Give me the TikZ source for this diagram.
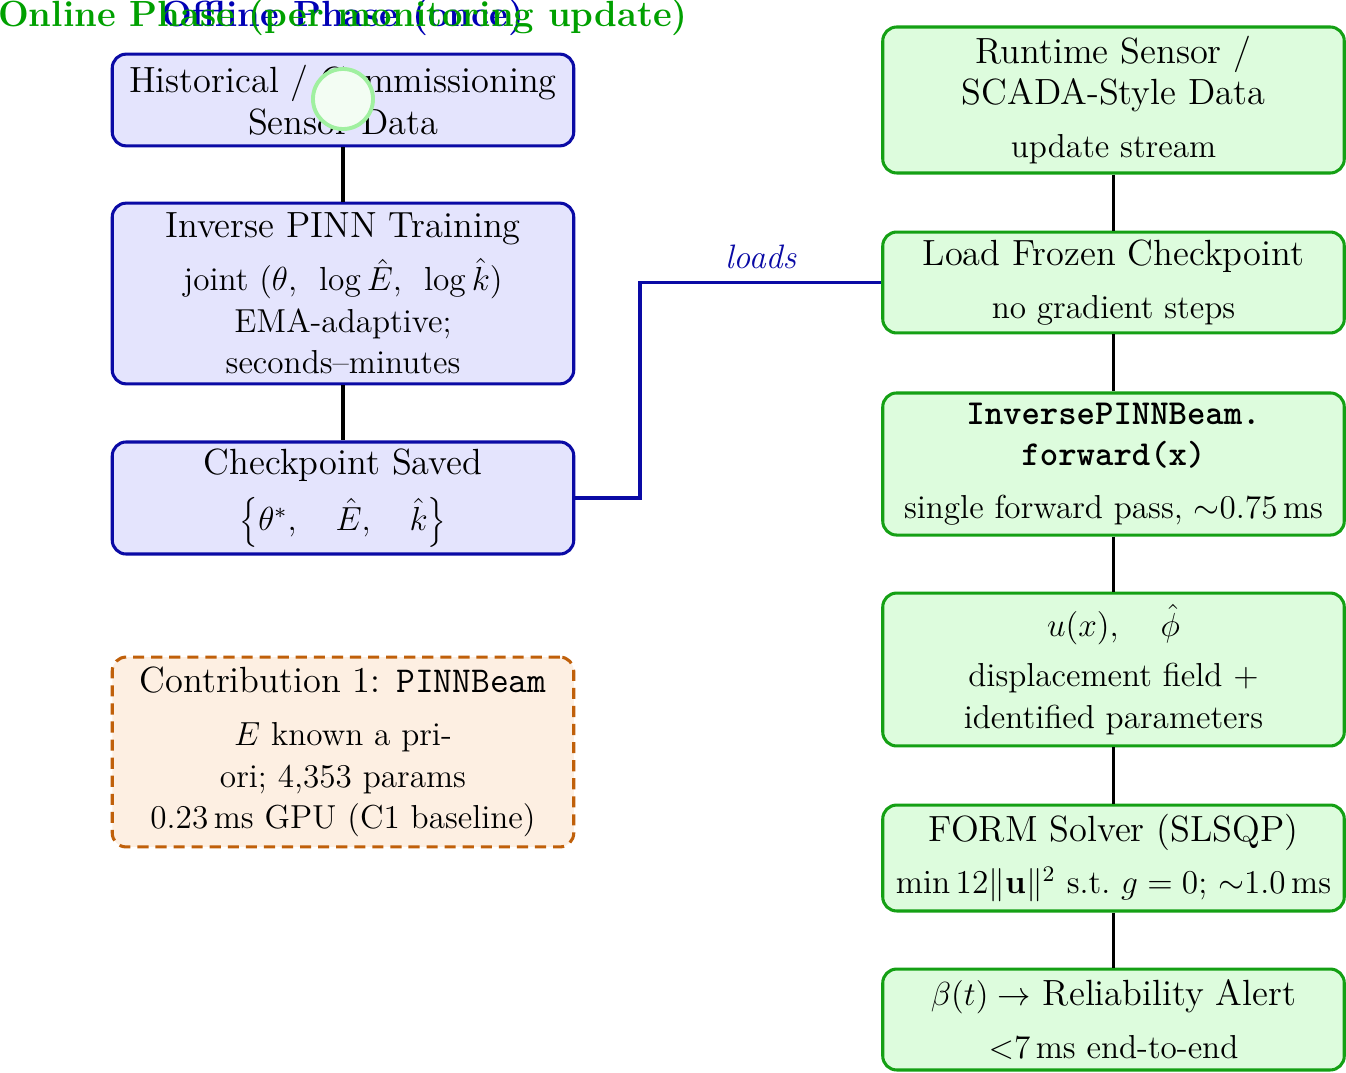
\documentclass[tikz,border=0pt]{standalone}
\usetikzlibrary{positioning}
\definecolor{offfill}{RGB}{228,228,253}
\definecolor{offdraw}{RGB}{10,10,165}
\definecolor{onfill}{RGB}{221,252,221}
\definecolor{ondraw}{RGB}{20,160,20}
\definecolor{cfill}{RGB}{253,239,226}
\definecolor{cdraw}{RGB}{192,96,10}
\definecolor{offtitle}{RGB}{0,0,180}
\definecolor{ontitle}{RGB}{0,160,0}
\definecolor{circfill}{RGB}{243,253,243}
\definecolor{circdraw}{RGB}{160,240,160}
\newcommand\subtxt[1]{{\fontsize{11.95}{15}\selectfont #1}}
\tikzset{
  box/.style={rectangle, rounded corners=5pt, line width=1.1pt, minimum width=166pt,
    align=center, inner sep=2pt, font=\fontsize{13.1}{15}\selectfont},
  offbox/.style={box, draw=offdraw, fill=offfill},
  onbox/.style={box, draw=ondraw, fill=onfill},
  contribbox/.style={box, draw=cdraw, fill=cfill, dash pattern=on 4pt off 2.5pt},
  link/.style={line width=1.1pt, black},
  loadlink/.style={line width=1.1pt, offdraw},
  phasetitle/.style={font=\fontsize{13.1}{15}\selectfont\bfseries, inner sep=0pt},
}
\begin{document}
\begin{tikzpicture}[x=0.3597pt, y=-0.3597pt]
\useasboundingbox (0,0) rectangle (1346,1073);

% offline column
\node[offbox, minimum height=33pt] (hist) at (343,100)
  {Historical / Commissioning\\Sensor Data};
\node[offbox, minimum height=65pt] (train) at (343,293.5)
  {Inverse PINN Training\\[4pt]
   \subtxt{joint $(\theta,\ \,\log\hat{E},\ \,\log\hat{k})$}\\
   \subtxt{EMA-adaptive;}\\
   \subtxt{seconds--minutes}};
\node[offbox, minimum height=40.3pt] (ckpt) at (343,498)
  {Checkpoint Saved\\[5pt]
   \subtxt{$\left\{\theta^{*},\quad\hat{E},\quad\hat{k}\right\}$}};
\node[contribbox, minimum height=68.3pt] (contrib) at (343,752)
  {Contribution 1: \texttt{PINNBeam}\\[4pt]
   \subtxt{$E$ known a pri-}\\
   \subtxt{ori; 4,353 params}\\
   \subtxt{0.23\,ms GPU (C1 baseline)}};

% online column
\node[onbox, minimum height=52.5pt] (runtime) at (1113.5,100)
  {Runtime Sensor /\\SCADA-Style Data\\[4pt]
   \subtxt{update stream}};
\node[onbox, minimum height=36.3pt] (load) at (1113.5,282.5)
  {Load Frozen Checkpoint\\[4pt]
   \subtxt{no gradient steps}};
\node[onbox, minimum height=51.1pt] (fwd) at (1113.5,464)
  {{\fontsize{12.6}{15}\selectfont\ttfamily\bfseries InversePINNBeam.}\\{\fontsize{12.6}{15}\selectfont\ttfamily\bfseries forward(x)}\\[4pt]
   \subtxt{single forward pass, $\sim$0.75\,ms}};
\node[onbox, minimum height=55pt] (field) at (1113.5,669.5)
  {$u(x),\quad\hat{\phi}$\\[3pt]
   \subtxt{displacement field +}\\
   \subtxt{identified parameters}};
\node[onbox, minimum height=38.1pt] (form) at (1113.5,858)
  {FORM Solver (SLSQP)\\[4pt]
   \subtxt{$\min 12\|\mathbf{u}\|^2$ s.t.\ $g=0$; $\sim$1.0\,ms}};
\node[onbox, minimum height=36.3pt] (alert) at (1113.5,1019.5)
  {$\beta(t)\rightarrow$ Reliability Alert\\[4pt]
   \subtxt{$<$7\,ms end-to-end}};

% connectors
\draw[link] (hist.south) -- (train.north);
\draw[link] (train.south) -- (ckpt.north);
\draw[link] (runtime.south) -- (load.north);
\draw[link] (load.south) -- (fwd.north);
\draw[link] (fwd.south) -- (field.north);
\draw[link] (field.south) -- (form.north);
\draw[link] (form.south) -- (alert.north);

\coordinate (lx) at (640,0);
\draw[loadlink] (ckpt.east) -- (ckpt.east -| lx) |- (load.west)
  node[pos=0.75, above=1pt, text=offdraw, font=\fontsize{12.2}{14}\selectfont\itshape] (loadlbl) {loads};

% overlays
\node[circle, draw=circdraw, fill=circfill, line width=1.4pt, minimum size=21.6pt, inner sep=0pt] (dot) at (343,99) {};
\node[phasetitle, text=offtitle] (offt) at (343,17) {Offline Phase (once)};
\node[phasetitle, text=ontitle] (ont) at (343,17) {Online Phase (per monitoring update)};
\end{tikzpicture}
\end{document}
